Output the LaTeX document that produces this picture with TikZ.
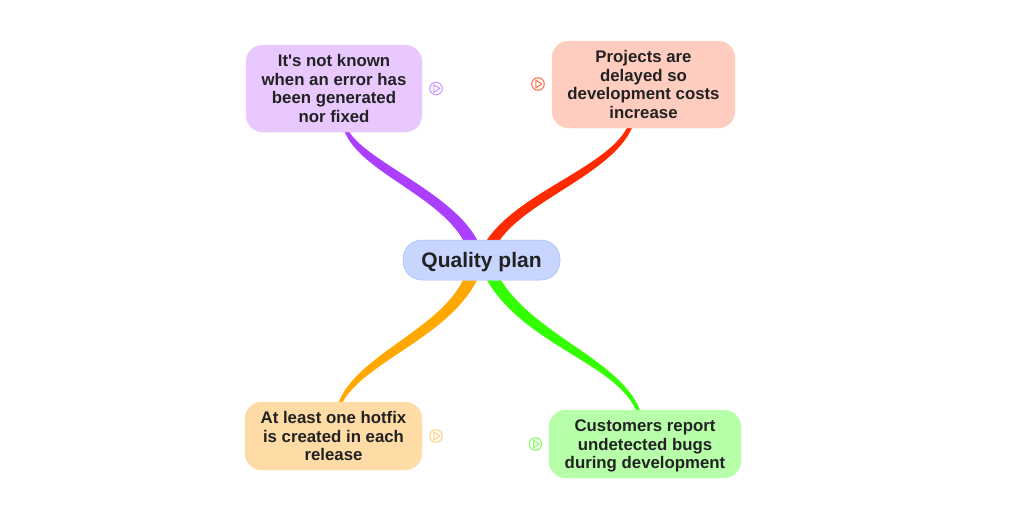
\documentclass[tikz,border=0pt]{standalone}
\usepackage{fontspec}
\setmainfont{Liberation Sans}
\usepackage{tikz}
\usetikzlibrary{positioning}
\usetikzlibrary{backgrounds}
\usetikzlibrary{calc}
\definecolor{purplefill}{HTML}{E8C8FF}
\definecolor{redfill}{HTML}{FFCCC0}
\definecolor{orangefill}{HTML}{FFDBA6}
\definecolor{greenfill}{HTML}{B8FFAA}
\definecolor{bluefill}{HTML}{C8D6FF}
\definecolor{purplebranch}{HTML}{AA3FFF}
\definecolor{redbranch}{HTML}{FF2A00}
\definecolor{orangebranch}{HTML}{FFA800}
\definecolor{greenbranch}{HTML}{33FF00}
\definecolor{inktext}{HTML}{222222}
\tikzstyle{topic}=[rounded corners=17pt,align=center,inner sep=0pt,text=inktext,font=\bfseries\fontsize{16.8}{18.5}\selectfont]
\tikzstyle{playring}=[circle,minimum size=12.5pt,inner sep=0pt,line width=1.1pt]
\newcommand{\playmark}[3]{
  \node [playring,draw=#3] (#1) at (#2) {};
  \draw [#3,line width=1.1pt,line join=round] ($(#1)+(-2.2,-3.8)$) -- ($(#1)+(3.8,0)$) -- ($(#1)+(-2.2,3.8)$) -- cycle;
}
\begin{document}
\begin{tikzpicture}[x=1pt,y=-1pt]
\useasboundingbox (0,0) rectangle (1024,520);
\node [topic,rounded corners=19pt,fill=bluefill,draw=bluefill!85!blue,line width=0.5pt,minimum width=157pt,minimum height=40pt,text height=19.5pt,font=\bfseries\fontsize{21}{23}\selectfont] (quality) at (481.5,260) {Quality plan};
\node [topic,fill=purplefill,draw=purplefill,minimum width=176pt,minimum height=87pt] (known) at (334,88.5) {It\textquotesingle s not known\\when an error has\\been generated\\nor fixed};
\node [topic,fill=redfill,draw=redfill,minimum width=183pt,minimum height=87pt] (delayed) at (643.5,84.5) {Projects are\\delayed so\\development costs\\increase};
\node [topic,fill=orangefill,draw=orangefill,minimum width=177pt,minimum height=68pt] (hotfix) at (333.5,436) {At least one hotfix\\is created in each\\release};
\node [topic,fill=greenfill,draw=greenfill,minimum width=192pt,minimum height=68pt] (bugs) at (645,444) {\rule{0pt}{16pt}Customers report\\undetected bugs\\during development};
\playmark{knownmark}{436,88.5}{purplebranch!55}
\playmark{delayedmark}{538,84}{redbranch!65}
\playmark{hotfixmark}{436,436}{orangebranch!50}
\playmark{bugsmark}{535.5,444}{greenbranch!60}
\begin{scope}[on background layer]
\coordinate (k1) at ($(known.south west)+(99,0)$);
\coordinate (k2) at ($(known.south west)+(103.5,0)$);
\coordinate (q1) at ($(quality.north)+(-18.5,0)$);
\coordinate (q2) at ($(quality.north)+(-4.5,0)$);
\fill [purplebranch] (k1) .. controls (362,172) and (437,195) .. (q1) -- (q2) .. controls (452,193) and (370,163) .. (k2) -- cycle;
\coordinate (d1) at ($(delayed.south west)+(75,0)$);
\coordinate (d2) at ($(delayed.south west)+(80,0)$);
\coordinate (q3) at ($(quality.north)+(5.5,0)$);
\coordinate (q4) at ($(quality.north)+(18.5,0)$);
\fill [redbranch] (d1) .. controls (605,168) and (520,192) .. (q3) -- (q4) .. controls (528,200) and (612,173) .. (d2) -- cycle;
\coordinate (h1) at ($(hotfix.north west)+(94,0)$);
\coordinate (h2) at ($(hotfix.north west)+(98,0)$);
\coordinate (q5) at ($(quality.south)+(-18.5,0)$);
\coordinate (q6) at ($(quality.south)+(-4.5,0)$);
\fill [orangebranch] (h1) .. controls (358,355) and (438,330) .. (q5) -- (q6) .. controls (448,337) and (365,362) .. (h2) -- cycle;
\coordinate (b1) at ($(bugs.north west)+(87,0)$);
\coordinate (b2) at ($(bugs.north west)+(91,0)$);
\coordinate (q7) at ($(quality.south)+(5.5,0)$);
\coordinate (q8) at ($(quality.south)+(19.5,0)$);
\fill [greenbranch] (b1) .. controls (615,363) and (525,345) .. (q7) -- (q8) .. controls (535,335) and (620,360) .. (b2) -- cycle;
\end{scope}
\end{tikzpicture}
\end{document}
